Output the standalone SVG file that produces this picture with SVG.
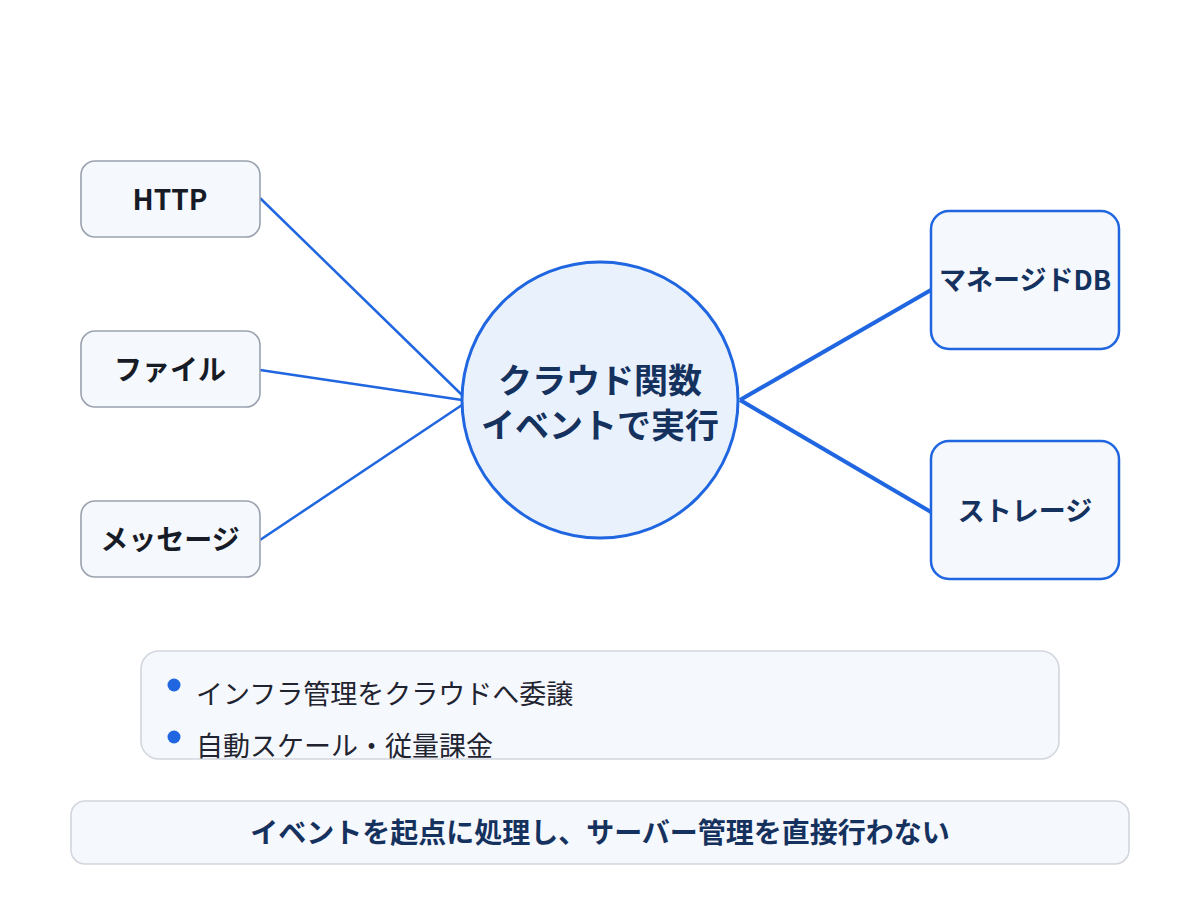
<svg xmlns="http://www.w3.org/2000/svg" width="1200" height="900" viewBox="0 0 1200 900">
<style>
text{font-family:"Noto Sans CJK JP","Noto Sans",sans-serif;}
.src rect{fill:#f5f8fd;stroke:#9aa2ae;stroke-width:1.6;}
.src text{font-size:28px;font-weight:700;fill:#161b26;text-anchor:middle;}
.dst rect{fill:#f5f8fd;stroke:#1f66e0;stroke-width:2.5;}
.dst text{font-size:27px;font-weight:700;fill:#15325f;text-anchor:middle;}
.cin{stroke:#1f66e0;stroke-width:2.5;fill:none;}
.cout{stroke:#1f66e0;stroke-width:4;fill:none;}
.panel{fill:#f5f8fd;stroke:#d2d6dd;stroke-width:1.6;}
</style>
<rect width="1200" height="900" fill="#ffffff"/>
<g id="connectors">
<line class="cin" x1="260" y1="198" x2="462" y2="395"/>
<line class="cin" x1="260" y1="370" x2="462" y2="400"/>
<line class="cin" x1="260" y1="540" x2="462" y2="405"/>
<line class="cout" x1="740" y1="400" x2="931" y2="290"/>
<line class="cout" x1="740" y1="400" x2="931" y2="512"/>
</g>
<g id="center">
<circle cx="600" cy="400" r="138" fill="#e9f1fd" stroke="#1f66e0" stroke-width="3"/>
<text x="600" y="393" font-size="34" font-weight="700" fill="#15325f" text-anchor="middle">クラウド関数</text>
<text x="600" y="438" font-size="34" font-weight="700" fill="#15325f" text-anchor="middle">イベントで実行</text>
</g>
<g id="http" class="src"><rect x="81" y="161" width="179" height="76" rx="14"/><text x="170" y="210">HTTP</text></g>
<g id="file" class="src"><rect x="81" y="331" width="179" height="76" rx="14"/><text x="170" y="380">ファイル</text></g>
<g id="message" class="src"><rect x="81" y="501" width="179" height="76" rx="14"/><text x="170" y="550">メッセージ</text></g>
<g id="db" class="dst"><rect x="931" y="211" width="188" height="138" rx="18"/><text x="1025" y="290">マネージドDB</text></g>
<g id="storage" class="dst"><rect x="931" y="441" width="188" height="138" rx="18"/><text x="1025" y="521">ストレージ</text></g>
<g id="notes">
<rect class="panel" x="141" y="651" width="918" height="108" rx="18"/>
<circle cx="174" cy="685" r="6.5" fill="#1f66e0"/>
<circle cx="174" cy="737" r="6.5" fill="#1f66e0"/>
<text x="196" y="704" font-size="27" fill="#1f2430">インフラ管理をクラウドへ委譲</text>
<text x="196" y="756" font-size="27" fill="#1f2430">自動スケール・従量課金</text>
</g>
<g id="summary">
<rect class="panel" x="71" y="801" width="1058" height="63" rx="14"/>
<text x="600" y="843" font-size="28" font-weight="700" fill="#15325f" text-anchor="middle">イベントを起点に処理し、サーバー管理を直接行わない</text>
</g>
</svg>
